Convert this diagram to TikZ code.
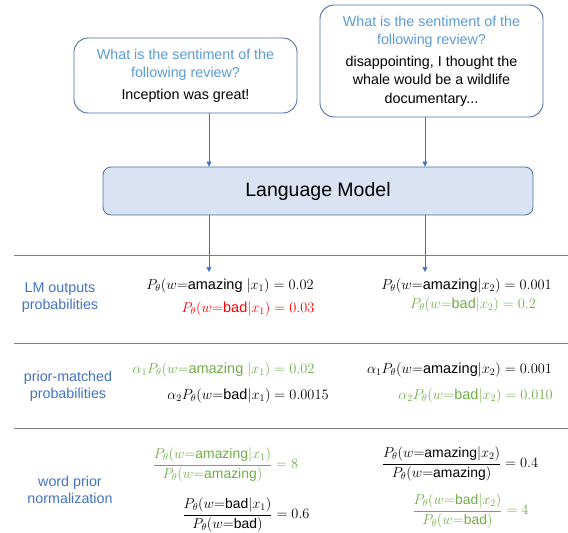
\documentclass[tikz,border=0pt]{standalone}
\usepackage{amsmath}
\usepackage{fontspec}
\setmainfont{Liberation Sans}
\usetikzlibrary{arrows.meta}
\definecolor{boxblue}{HTML}{4A6FA8}
\definecolor{qblue}{HTML}{5B9BD5}
\definecolor{lblue}{HTML}{4472C4}
\definecolor{lmfill}{HTML}{DAE3F3}
\definecolor{pgreen}{HTML}{70AD47}
\definecolor{pred}{HTML}{FF0000}
\definecolor{rule}{HTML}{808080}
\newcommand{\tx}[1]{\text{#1}}
\begin{document}
\begin{tikzpicture}[x=1pt,y=-1pt,
  qbox/.style={draw=boxblue,line width=0.9pt,rounded corners=14pt,fill=white,align=center,inner sep=0pt,font=\fontsize{14.3}{18.5}\selectfont},
  lmbox/.style={draw=boxblue,line width=0.8pt,rounded corners=8pt,fill=lmfill,font=\fontsize{19.5}{22}\selectfont},
  arr/.style={draw=lblue,line width=0.7pt,-{Triangle[width=5pt,length=5pt]}},
  sep/.style={draw=rule,line width=1pt},
  lab/.style={text=lblue,align=center,font=\fontsize{14.3}{17}\selectfont},
  eq/.style={inner sep=0pt,font=\fontsize{14.5}{16}\selectfont},
  fr/.style={inner sep=0pt,font=\fontsize{13.9}{16}\selectfont},
]
\useasboundingbox (0,0) rectangle (568,533);
% question boxes
\node[qbox,minimum width=223pt,minimum height=75pt] (q1) at (185.5,75.5)
  {\textcolor{qblue}{What is the sentiment of the}\\\textcolor{qblue}{following review?}\\[3pt]Inception was great!};
\node[qbox,minimum width=223pt,minimum height=112pt] (q2) at (431.5,61)
  {\textcolor{qblue}{What is the sentiment of the}\\\textcolor{qblue}{following review?}\\[3pt]disappointing, I thought the\\whale would be a wildlife\\documentary...};
% language model
\node[lmbox,minimum width=430pt,minimum height=48pt] (lm) at (318,191) {Language Model};
\coordinate (c1) at (209,0);
\coordinate (c2) at (425,0);
\coordinate (e1) at (209,272);
\coordinate (e2) at (425,272);
\draw[arr] (q1.south -| c1) -- (lm.north -| c1);
\draw[arr] (q2.south -| c2) -- (lm.north -| c2);
\draw[arr] (lm.south -| c1) -- (e1);
\draw[arr] (lm.south -| c2) -- (e2);
% separators
\coordinate (s1a) at (14,255); \coordinate (s1b) at (568,255);
\coordinate (s2a) at (14,343); \coordinate (s2b) at (568,343);
\coordinate (s3a) at (14,428); \coordinate (s3b) at (568,428);
\draw[sep] (s1a) -- (s1b);
\draw[sep] (s2a) -- (s2b);
\draw[sep] (s3a) -- (s3b);
% row labels
\node[lab] (l1) at (60,298) {LM outputs\\probabilities};
\node[lab] (l2) at (68,386) {prior-matched\\probabilities};
\node[lab] (l3) at (70,490) {word prior\\normalization};
% row 1
\node[eq] (r1a) at (230,286) {$P_\theta(w{=}\tx{amazing }|x_1) = 0.02$};
\node[eq,text=pred] (r1b) at (248,309) {$P_\theta(w{=}\tx{bad}|x_1) = 0.03$};
\node[eq] (r1c) at (466.5,286) {$P_\theta(w{=}\tx{amazing}|x_2) = 0.001$};
\node[eq,text=pgreen] (r1d) at (473,305) {$P_\theta(w{=}\tx{bad}|x_2) = 0.2$};
% row 2
\node[eq,text=pgreen] (r2a) at (223.5,370) {$\alpha_1P_\theta(w{=}\tx{amazing }|x_1) = 0.02$};
\node[eq] (r2b) at (248,396) {$\alpha_2P_\theta(w{=}\tx{bad}|x_1) = 0.0015$};
\node[eq] (r2c) at (459.5,370) {$\alpha_1P_\theta(w{=}\tx{amazing}|x_2) = 0.001$};
\node[eq,text=pgreen] (r2d) at (475.5,396) {$\alpha_2P_\theta(w{=}\tx{bad}|x_2) = 0.010$};
% row 3
\node[fr,text=pgreen] (r3a) at (225.5,465) {$\dfrac{P_\theta(w{=}\tx{amazing}|x_1)}{P_\theta(w{=}\tx{amazing})} = 8$};
\node[fr] (r3b) at (246,515) {$\dfrac{P_\theta(w{=}\tx{bad}|x_1)}{P_\theta(w{=}\tx{bad})} = 0.6$};
\node[fr] (r3c) at (460,464) {$\dfrac{P_\theta(w{=}\tx{amazing}|x_2)}{P_\theta(w{=}\tx{amazing})} = 0.4$};
\node[fr,text=pgreen] (r3d) at (470.5,511) {$\dfrac{P_\theta(w{=}\tx{bad}|x_2)}{P_\theta(w{=}\tx{bad})} = 4$};
\end{tikzpicture}
\end{document}
